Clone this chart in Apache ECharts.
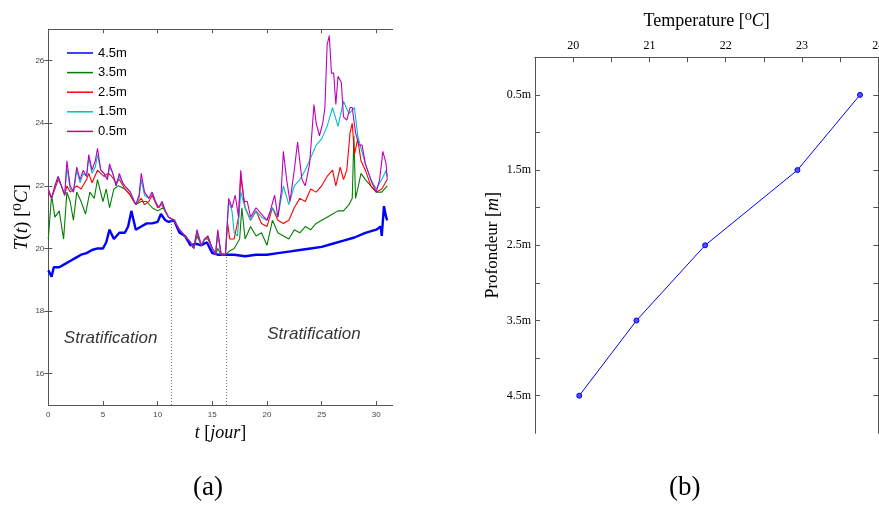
<!DOCTYPE html>
<html>
<head>
<meta charset="utf-8">
<script src="https://cdn.jsdelivr.net/npm/echarts@6/dist/echarts.min.js"></script>
<style>
html,body{margin:0;padding:0;background:#fff;}
#c{width:879px;height:507px;}
</style>
</head>
<body>
<div id="c"></div>
<script>
// ---- Panel (a): temperature time series [day, °C] ----
const seriesNames = ['4.5m', '3.5m', '2.5m', '1.5m', '0.5m'];
const t45 = [[0,19.3],[0.3,19.1],[0.5,19.4],[1,19.4],[1.5,19.5],[2,19.6],[2.5,19.7],[3,19.8],[3.5,19.85],[4,19.95],[4.5,20.0],[5,20.0],[5.3,20.2],[5.6,20.6],[6,20.3],[6.5,20.5],[7,20.5],[7.3,20.7],[7.6,21.2],[8,20.6],[8.5,20.7],[9,20.8],[9.5,20.8],[10,20.85],[10.3,21.1],[10.7,20.9],[11,20.85],[11.5,20.9],[12,20.5],[12.5,20.4],[13,20.1],[13.5,20.15],[14,20.1],[14.5,20.2],[15,19.85],[15.5,19.8],[16,19.8],[16.5,19.8],[17,19.8],[18,19.75],[19,19.8],[20,19.8],[21,19.85],[22,19.9],[23,19.95],[24,20.0],[25,20.05],[26,20.15],[27,20.25],[28,20.35],[29,20.5],[30,20.6],[30.4,20.7],[30.5,20.4],[30.7,21.35],[30.9,21.0],[31,20.9]];
const t35 = [[0,20.3],[0.3,21.7],[0.6,21.0],[1,21.2],[1.4,20.3],[1.7,21.8],[2,21.5],[2.3,20.9],[2.6,21.8],[3,21.5],[3.4,21.1],[3.8,21.8],[4.2,21.6],[4.5,22.2],[5,21.5],[5.3,21.9],[5.6,21.3],[6,21.9],[6.4,22.0],[7,21.9],[7.5,21.7],[8,21.4],[8.5,21.5],[9,21.5],[9.5,21.3],[10,21.2],[10.5,21.3],[11,21.0],[11.5,20.9],[12,20.6],[12.5,20.4],[13,20.2],[13.3,20.0],[13.6,20.4],[14,20.1],[14.3,20.3],[14.6,20.3],[15,20.0],[15.3,19.8],[15.5,20.0],[15.8,19.8],[16.2,19.8],[16.5,19.9],[17,20.0],[17.5,20.3],[17.7,21.3],[18,20.3],[18.5,20.7],[19,20.4],[19.5,20.5],[20,20.1],[20.5,20.9],[21,20.5],[21.5,20.4],[22,20.3],[22.5,20.6],[23,20.5],[23.5,20.7],[24,20.6],[24.5,20.8],[25,20.9],[25.5,21.0],[26,21.1],[26.5,21.2],[27,21.2],[27.5,21.4],[27.8,21.6],[27.95,23.6],[28.1,21.6],[28.3,21.9],[28.6,22.4],[29,22.2],[29.5,22.0],[30,21.8],[30.5,21.8],[31,22.0]];
const t25 = [[0,21.8],[0.3,21.6],[0.6,21.9],[0.9,22.2],[1.2,22.0],[1.5,21.7],[1.7,22.0],[2,21.8],[2.3,21.9],[2.6,22.0],[3,21.9],[3.5,22.2],[3.7,22.4],[4,22.1],[4.5,22.5],[4.8,22.4],[5.1,22.3],[5.5,22.4],[5.8,22.3],[6.2,22.1],[6.5,22.2],[7,21.9],[7.5,21.7],[8,21.4],[8.5,21.6],[8.8,21.4],[9.2,21.5],[9.5,21.7],[10,21.3],[10.4,21.4],[10.7,21.2],[11,21.0],[11.5,20.9],[12,20.6],[12.5,20.4],[13,20.2],[13.3,20.0],[13.6,20.5],[14,20.1],[14.3,20.3],[14.6,20.35],[15,20.0],[15.3,19.85],[15.5,20.5],[15.8,19.85],[16.2,19.8],[16.4,20.8],[16.6,20.3],[17,20.3],[17.4,21.0],[17.6,22.3],[18,21.3],[18.5,20.9],[19,21.2],[19.5,20.8],[20,20.7],[20.5,21.3],[21,20.9],[21.5,20.8],[22,20.9],[22.5,21.3],[23,21.6],[23.5,21.5],[24,21.9],[24.5,21.8],[25,22.0],[25.5,22.3],[26,22.5],[26.3,22.0],[26.7,22.6],[27,22.2],[27.3,22.5],[27.6,23.7],[27.8,24.0],[28,23.0],[28.3,23.5],[28.6,22.8],[29,22.5],[29.5,22.0],[30,21.8],[30.5,21.9],[31,22.2]];
const t15 = [[0,21.9],[0.3,21.6],[0.6,22.0],[0.9,22.3],[1.2,22.0],[1.5,21.7],[1.7,22.6],[2,21.9],[2.3,21.8],[2.6,22.5],[2.9,22.1],[3.2,22.4],[3.5,22.3],[3.7,22.9],[4,22.4],[4.3,22.6],[4.5,23.0],[4.8,22.5],[5.1,22.4],[5.4,22.2],[5.6,22.6],[5.9,22.4],[6.2,22.0],[6.5,22.3],[6.8,22.1],[7,22.0],[7.5,21.8],[8,21.4],[8.3,21.6],[8.5,22.2],[8.8,21.7],[9.2,21.6],[9.5,21.8],[9.8,21.5],[10.1,21.3],[10.4,21.5],[10.7,21.2],[11,21.0],[11.5,20.9],[12,20.6],[12.5,20.4],[13,20.2],[13.3,20.0],[13.6,20.55],[14,20.1],[14.3,20.3],[14.6,20.4],[15,20.0],[15.3,19.8],[15.5,20.5],[15.8,19.8],[16.2,19.8],[16.5,21.5],[16.8,21.2],[17,20.5],[17.3,20.4],[17.6,21.8],[18,21.3],[18.5,20.9],[19,21.2],[19.5,21.0],[20,20.9],[20.5,21.3],[21,21.0],[21.5,22.0],[22,21.4],[22.5,22.0],[23,22.2],[23.5,22.5],[24,22.9],[24.5,23.3],[25,23.5],[25.5,23.9],[26,24.5],[26.5,23.9],[27,24.7],[27.5,24.3],[28,24.5],[28.3,23.6],[28.6,23.2],[29,22.7],[29.5,22.2],[30,21.9],[30.5,22.2],[30.9,22.5],[31,22.3]];
const t05 = [[0,21.9],[0.3,21.6],[0.6,22.0],[0.9,22.3],[1.2,22.0],[1.5,21.7],[1.7,22.8],[2,22.0],[2.3,21.8],[2.6,22.6],[2.9,22.2],[3.2,22.5],[3.5,22.3],[3.7,23.0],[4,22.5],[4.3,22.8],[4.5,23.2],[4.8,22.5],[5.1,22.4],[5.4,22.2],[5.6,22.7],[5.9,22.4],[6.2,22.0],[6.5,22.4],[6.8,22.1],[7,22.0],[7.5,21.8],[8,21.4],[8.3,21.7],[8.5,22.4],[8.8,21.8],[9.2,21.6],[9.5,21.8],[9.8,21.5],[10.1,21.3],[10.4,21.5],[10.7,21.2],[11,21.0],[11.5,20.9],[12,20.6],[12.5,20.4],[13,20.2],[13.3,20.0],[13.6,20.6],[14,20.1],[14.3,20.3],[14.6,20.4],[15,20.0],[15.3,19.8],[15.5,20.6],[15.8,19.8],[16.2,19.8],[16.5,21.6],[16.8,21.3],[17.1,21.7],[17.4,21.0],[17.6,22.5],[17.9,21.5],[18.2,21.5],[18.5,21.0],[19,21.3],[19.5,21.1],[20,20.9],[20.3,21.2],[20.7,21.7],[21,21.0],[21.3,21.8],[21.5,23.1],[21.8,22.2],[22.1,21.5],[22.5,22.5],[22.8,23.4],[23.2,22.2],[23.5,22.0],[23.9,22.7],[24.3,24.6],[24.5,24.0],[24.8,23.6],[25.1,24.0],[25.3,24.5],[25.5,26.5],[25.7,26.8],[25.9,25.6],[26.1,25.6],[26.3,24.6],[26.5,25.5],[26.8,25.3],[27,24.2],[27.3,24.1],[27.6,24.5],[27.8,24.5],[28.1,23.7],[28.4,23.3],[28.7,23.3],[29,22.7],[29.3,22.4],[29.6,22.1],[30,21.8],[30.3,22.2],[30.6,23.1],[30.9,22.7],[31,22.2]];
const seriesColors = ['#0000ff', '#008000', '#ff0000', '#00bfbf', '#bf00bf'];
const timeTicks = [0, 5, 10, 15, 20, 25, 30];
const tempTicks = [16, 18, 20, 22, 24, 26];
// dotted separators: [day, top temperature]
const dividers = [[11.25, 20.9], [16.26, 19.8]];
// annotations: [day, temperature, text]
const annotations = [[5.7, 17.13, 'Stratification'], [24.3, 17.25, 'Stratification']];

// ---- Panel (b): mean temperature profile ----
const depths = [0.5, 1.5, 2.5, 3.5, 4.5];
const profileTemps = [23.76, 22.94, 21.73, 20.83, 20.08];
const profTempLabels = [20, 21, 22, 23, 24];
const profTempTicks = [20, 20.5, 21, 21.5, 22, 22.5, 23, 23.5];
const depthTicks = [0.5, 1, 1.5, 2, 2.5, 3, 3.5, 4, 4.5];

const serif = "'Liberation Serif', 'DejaVu Serif', serif";
const sans = "'Liberation Sans', Arial, sans-serif";
const axisCol = '#555';

const chart = echarts.init(document.getElementById('c'), null, {renderer: 'canvas'});

function boxAxis(extra) {
  return Object.assign({
    type: 'value',
    axisLine: {show: true, lineStyle: {color: axisCol, width: 1}},
    splitLine: {show: false},
    axisTick: {show: true, inside: true, length: 4, lineStyle: {color: axisCol}},
    axisLabel: {show: false}
  }, extra);
}

const lineSeries = [t45, t35, t25, t15, t05].map((d, i) => ({
  name: seriesNames[i],
  type: 'line',
  xAxisIndex: 0, yAxisIndex: 0,
  data: d,
  showSymbol: false,
  symbol: 'none',
  color: seriesColors[i],
  lineStyle: {width: i === 0 ? 2.4 : 1.1, color: seriesColors[i]},
  z: 2 + i,
  silent: true
}));

lineSeries[0].markLine = {
  silent: true,
  symbol: ['none', 'none'],
  label: {show: false},
  lineStyle: {type: [1, 2], color: '#777', width: 1},
  data: dividers.map(d => [{coord: [d[0], 15]}, {coord: [d[0], d[1]]}])
};

const option = {
  animation: false,
  backgroundColor: '#fff',
  grid: [
    {left: 48.3, top: 29.3, width: 344.4, height: 375.7, containLabel: false, outerBoundsMode: 'none'},
    {left: 535, top: 57.3, width: 343.3, height: 376, containLabel: false, outerBoundsMode: 'none'}
  ],
  legend: {
    data: seriesNames,
    orient: 'vertical',
    left: 67, top: 46, padding: 0,
    icon: 'rect',
    itemWidth: 26, itemHeight: 1.5,
    itemGap: 5.6,
    textStyle: {fontFamily: sans, fontSize: 13, color: '#000', lineHeight: 14},
    selectedMode: false
  },
  xAxis: [
    boxAxis({gridIndex: 0, position: 'bottom', min: 0, max: 31.5,
      axisTick: {show: true, inside: true, length: 4, customValues: timeTicks, lineStyle: {color: axisCol}},
      axisLabel: {show: true, customValues: timeTicks, fontSize: 8, color: '#444', fontFamily: sans, margin: 6},
      name: '{i|t} [{i|jour}]', nameLocation: 'middle', nameGap: 17,
      nameTextStyle: {fontFamily: serif, fontSize: 18, color: '#000',
        rich: {i: {fontFamily: serif, fontStyle: 'italic', fontSize: 18, color: '#000'}}}
    }),
    boxAxis({gridIndex: 0, position: 'top', min: 0, max: 31.5,
      axisTick: {show: true, inside: true, length: 4, customValues: timeTicks, lineStyle: {color: axisCol}}}),
    boxAxis({gridIndex: 1, position: 'top', min: 19.5, max: 24,
      axisTick: {show: true, inside: true, length: 5, customValues: profTempTicks, lineStyle: {color: axisCol}},
      axisLabel: {show: true, customValues: profTempLabels, fontSize: 12, color: '#000', fontFamily: serif, margin: 5},
      name: 'Temperature [⁰{i|C}]', nameLocation: 'middle', nameGap: 27,
      nameTextStyle: {fontFamily: serif, fontSize: 18, color: '#000',
        rich: {i: {fontFamily: serif, fontStyle: 'italic', fontSize: 18, color: '#000'}}}
    }),
    boxAxis({gridIndex: 1, position: 'bottom', min: 19.5, max: 24, axisTick: {show: false}})
  ],
  yAxis: [
    boxAxis({gridIndex: 0, position: 'left', min: 15, max: 27,
      axisTick: {show: true, inside: true, length: 4, customValues: tempTicks, lineStyle: {color: axisCol}},
      axisLabel: {show: true, customValues: tempTicks, fontSize: 8, color: '#444', fontFamily: sans, margin: 4},
      name: '{i|T}({i|t}) [⁰{i|C}]', nameLocation: 'middle', nameGap: 15,
      nameTextStyle: {fontFamily: serif, fontSize: 19, color: '#000',
        rich: {i: {fontFamily: serif, fontStyle: 'italic', fontSize: 19, color: '#000'}}}
    }),
    boxAxis({gridIndex: 0, position: 'right', min: 15, max: 27,
      axisTick: {show: true, inside: true, length: 4, customValues: tempTicks, lineStyle: {color: axisCol}}}),
    boxAxis({gridIndex: 1, position: 'left', min: 0, max: 5, inverse: true,
      axisTick: {show: true, inside: true, length: 5, customValues: depthTicks, lineStyle: {color: axisCol}},
      axisLabel: {show: true, customValues: depths, fontSize: 12, color: '#000', fontFamily: serif, margin: 4,
        formatter: v => v + 'm'},
      name: 'P{s|rofondeur} [{i|m}]', nameLocation: 'middle', nameGap: 33,
      nameTextStyle: {fontFamily: serif, fontSize: 18, color: '#000',
        rich: {i: {fontFamily: serif, fontStyle: 'italic', fontSize: 18, color: '#000'},
               s: {fontFamily: serif, fontSize: 17, color: '#000'}}}
    }),
    boxAxis({gridIndex: 1, position: 'right', min: 0, max: 5, inverse: true,
      axisTick: {show: true, inside: true, length: 5, customValues: depthTicks, lineStyle: {color: axisCol}}})
  ],
  series: lineSeries.concat([
    {
      name: 'annot',
      type: 'scatter',
      xAxisIndex: 0, yAxisIndex: 0,
      data: annotations,
      symbolSize: 0,
      silent: true,
      label: {show: true, position: 'inside', formatter: p => p.value[2],
        fontFamily: sans, fontStyle: 'italic', fontSize: 17, color: '#000'}
    },
    {
      name: 'profile',
      type: 'line',
      xAxisIndex: 2, yAxisIndex: 2,
      data: depths.map((d, i) => [profileTemps[i], d]),
      symbol: 'circle', symbolSize: 5,
      lineStyle: {color: '#0000ff', width: 1},
      itemStyle: {color: '#5050ff', borderColor: '#0000ff', borderWidth: 1},
      silent: true
    }
  ]),
  graphic: [
    {type: 'text', left: 193, top: 474, style: {text: '(a)', fontFamily: serif, fontSize: 27, letterSpacing: 2, fill: '#000'}},
    {type: 'text', left: 669, top: 474, style: {text: '(b)', fontFamily: serif, fontSize: 27, letterSpacing: 2, fill: '#000'}}
  ]
};
chart.setOption(option);
</script>
</body>
</html>
